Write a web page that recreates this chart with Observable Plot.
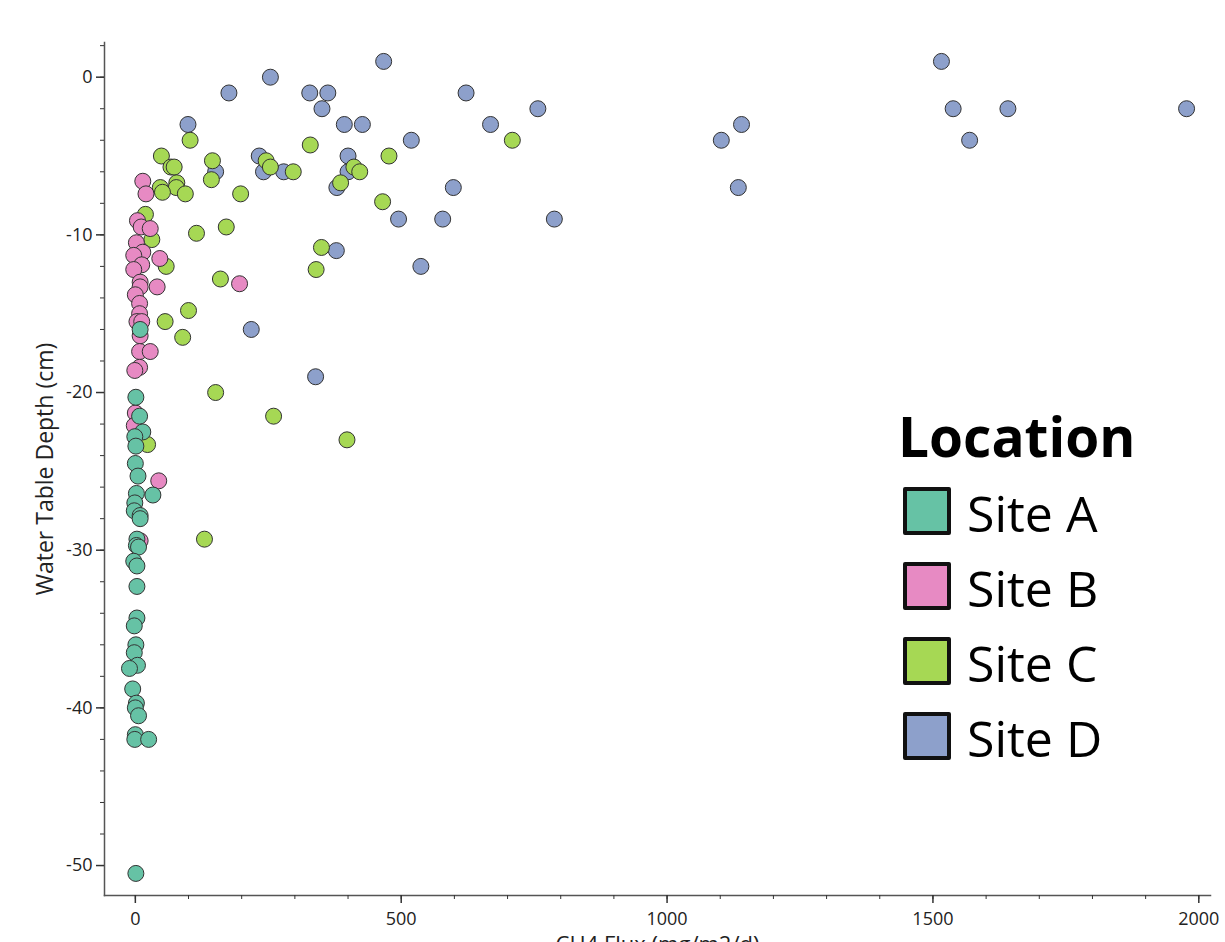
<!DOCTYPE html>
<html><head><meta charset="utf-8">
<script src="https://cdn.jsdelivr.net/npm/d3@7"></script>
<script src="https://cdn.jsdelivr.net/npm/@observablehq/plot@0.6"></script>
<style>
body{margin:0;background:#fff;}
#wrap{position:relative;width:1225px;height:942px;overflow:hidden;font-family:"Open Sans",sans-serif;}
.lg-title{position:absolute;font-weight:700;font-size:55px;line-height:55px;color:#000;white-space:nowrap;}
.lg-sw{position:absolute;width:48px;height:48px;box-sizing:border-box;border:4px solid #111;border-radius:2px;}
.lg-tx{position:absolute;font-size:50px;line-height:50px;color:#000;white-space:nowrap;}
</style></head><body><div id="wrap"></div>
<script>
const sites = ["Site A", "Site B", "Site C", "Site D"];
const siteColors = ["#66c2a5", "#e78ac3", "#a6d854", "#8da0cb"];

const siteA_x = [9, 1, 8, 14, -1, 1, 0, 5, 33, 2, -1, -2, 9, 9, 3, 2, 6, -3, 3, 3, 3, -2, 1, -2, 4, -11, -5, 2, 0, 6, 0, -1, 25, 1];
const siteA_y = [-16, -20.3, -21.5, -22.5, -22.8, -23.4, -24.5, -25.3, -26.5, -26.4, -27, -27.5, -27.8, -28, -29.3, -29.7, -29.8, -30.7, -31, -32.3, -34.3, -34.8, -36, -36.5, -37.3, -37.5, -38.8, -39.7, -40, -40.5, -41.7, -42, -42, -50.5];

const siteB_x = [14, 20, 4, 11, 28, 2, 14, -3, 46, 12, -3, 9, 9, 41, 196, 0, 8, 8, 3, 12, 9, 8, 28, 8, -1, 0, -2, 44, 9];
const siteB_y = [-6.6, -7.4, -9.1, -9.5, -9.6, -10.5, -11.1, -11.3, -11.5, -11.9, -12.2, -13.0, -13.3, -13.3, -13.1, -13.8, -14.35, -15.0, -15.5, -15.5, -16.4, -17.4, -17.4, -18.4, -18.6, -21.3, -22.1, -25.6, -29.4];

const siteC_x = [103, 329, 709, 49, 477, 145, 246, 67, 73, 254, 411, 297, 422, 143, 78, 386, 47, 77, 51, 94, 198, 465, 19, 171, 115, 31, 350, 58, 340, 160, 100, 56, 89, 151, 260, 398, 23, 130];
const siteC_y = [-4, -4.3, -4, -5, -5, -5.3, -5.3, -5.7, -5.7, -5.7, -5.7, -6, -6, -6.5, -6.7, -6.7, -7, -7, -7.3, -7.4, -7.4, -7.9, -8.7, -9.5, -9.9, -10.3, -10.8, -12, -12.2, -12.8, -14.8, -15.5, -16.5, -20, -21.5, -23, -23.3, -29.3];

const siteD_x = [467, 1516, 254, 176, 328, 362, 622, 351, 757, 1538, 1641, 1977, 99, 393, 427, 668, 1140, 519, 1102, 1569, 233, 400, 151, 241, 279, 400, 379, 598, 1134, 495, 578, 788, 378, 537, 218, 339];
const siteD_y = [1, 1, 0, -1, -1, -1, -1, -2, -2, -2, -2, -2, -3, -3, -3, -3, -3, -4, -4, -4, -5, -5, -6, -6, -6, -6, -7, -7, -7, -9, -9, -9, -11, -12, -16, -19];

const xTickValues = [0, 500, 1000, 1500, 2000];
const yTickValues = [0, -10, -20, -30, -40, -50];
const xLabel = "CH4 Flux (mg/m2/d)";
const yLabel = "Water Table Depth (cm)";
const legendTitle = "Location";

// draw order: D at the back, A in front
const seriesX = [siteA_x, siteB_x, siteC_x, siteD_x];
const seriesY = [siteA_y, siteB_y, siteC_y, siteD_y];
const rows = [];
for (const i of [3, 2, 1, 0]) {
  seriesX[i].forEach((x, j) => rows.push({site: sites[i], x, y: seriesY[i][j]}));
}

const ink = "#333";
const plot = Plot.plot({
  width: 1225,
  height: 942,
  marginLeft: 104,
  marginRight: 15,
  marginTop: 42,
  marginBottom: 47,
  style: {fontFamily: "'Open Sans', sans-serif", fontSize: "18px", color: ink, background: "white"},
  x: {domain: [-58, 2022]},
  y: {domain: [-51.9, 2.2]},
  color: {domain: sites, range: siteColors},
  marks: [
    Plot.frame({anchor: "left", stroke: "#555", strokeWidth: 1.5}),
    Plot.frame({anchor: "bottom", stroke: "#555", strokeWidth: 1.5}),
    Plot.axisX(d3.range(0, 2001, 100), {tickSize: 4, tickFormat: () => "", label: null, stroke: ink}),
    Plot.axisX(xTickValues, {tickSize: 8, tickPadding: 9, tickFormat: d => String(d), label: null, stroke: ink, strokeWidth: 1.5, fill: "#222", fontSize: 18}),
    Plot.axisY(d3.range(-50, 3, 2), {tickSize: 4, tickFormat: () => "", label: null, stroke: ink}),
    Plot.axisY(yTickValues, {tickSize: 8, tickPadding: 4, tickFormat: d => String(d), label: null, stroke: ink, strokeWidth: 1.5, fill: "#222", fontSize: 18}),
    Plot.dot(rows, {x: "x", y: "y", fill: "site", r: 8, stroke: "#333", strokeWidth: 1}),
    Plot.text([yLabel], {frameAnchor: "left", textAnchor: "middle", dx: -59, rotate: -90, fontSize: 23, fill: "#222"}),
    Plot.text([xLabel], {frameAnchor: "bottom", textAnchor: "middle", dy: 41, lineAnchor: "top", fontSize: 22, fill: "#222"})
  ]
});

const wrap = document.getElementById("wrap");
wrap.appendChild(plot);

const color = plot.scale("color");
const title = document.createElement("div");
title.className = "lg-title";
title.textContent = legendTitle;
title.style.left = "898px";
title.style.top = "408px";
wrap.appendChild(title);
sites.forEach((s, i) => {
  const sw = document.createElement("div");
  sw.className = "lg-sw";
  sw.style.left = "903px";
  sw.style.top = (487 + i * 75) + "px";
  sw.style.background = color.apply(s);
  wrap.appendChild(sw);
  const tx = document.createElement("div");
  tx.className = "lg-tx";
  tx.textContent = s;
  tx.style.left = "967px";
  tx.style.top = (488 + i * 75) + "px";
  wrap.appendChild(tx);
});
</script>
</body></html>
